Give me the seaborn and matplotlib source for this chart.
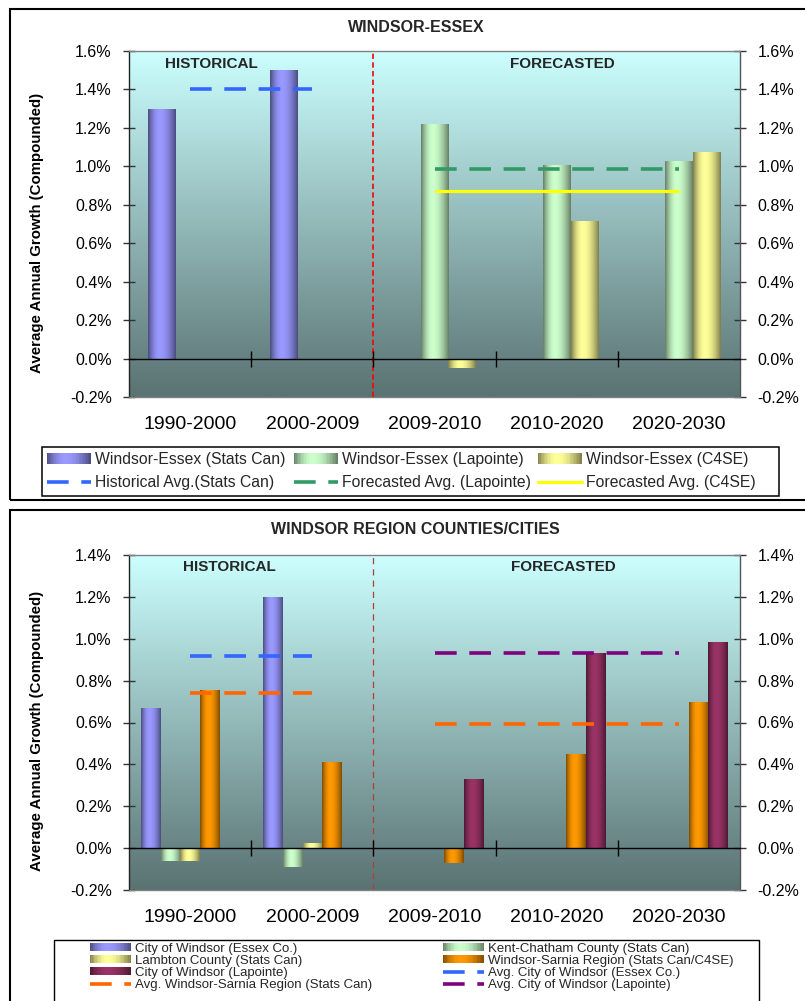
import numpy as np
import pandas as pd
import matplotlib
matplotlib.use("Agg")
import matplotlib.pyplot as plt
import matplotlib.transforms as mtransforms
import seaborn as sns
from matplotlib.patches import Rectangle, Patch
from matplotlib.lines import Line2D
from matplotlib.legend_handler import HandlerBase
from matplotlib.colors import to_rgb
from matplotlib.ticker import FuncFormatter, NullFormatter
from matplotlib import font_manager

nan = np.nan

# ---------------- data ----------------
periods = ['1990-2000', '2000-2009', '2009-2010', '2010-2020', '2020-2030']

# Panel 1: WINDSOR-ESSEX (average annual growth, %)
top_series = ['Windsor-Essex (Stats Can)', 'Windsor-Essex (Lapointe)', 'Windsor-Essex (C4SE)']
we_stats_can = [1.30, 1.50, nan, nan, nan]
we_lapointe = [nan, nan, 1.22, 1.005, 1.03]
we_c4se = [nan, nan, -0.05, 0.715, 1.075]
hist_avg_stats_can = [1.40, 1.40, nan, nan, nan]
fc_avg_lapointe = [nan, nan, 0.985, 0.985, 0.985]
fc_avg_c4se = [nan, nan, 0.87, 0.87, 0.87]
top_line_labels = ['Historical Avg.(Stats Can)', 'Forecasted Avg. (Lapointe)', 'Forecasted Avg. (C4SE)']
top_yticks = [-0.2, 0.0, 0.2, 0.4, 0.6, 0.8, 1.0, 1.2, 1.4, 1.6]

# Panel 2: WINDSOR REGION COUNTIES/CITIES
bot_series = ['City of Windsor (Essex Co.)', 'Kent-Chatham County (Stats Can)',
              'Lambton County (Stats Can)', 'Windsor-Sarnia Region (Stats Can/C4SE)',
              'City of Windsor (Lapointe)']
cow_essex = [0.67, 1.20, nan, nan, nan]
kent_chatham = [-0.06, -0.09, nan, nan, nan]
lambton = [-0.06, 0.025, nan, nan, nan]
ws_region = [0.755, 0.41, -0.07, 0.45, 0.70]
cow_lapointe = [nan, nan, 0.33, 0.93, 0.985]
avg_cow_essex = [0.92, 0.92, nan, nan, nan]
avg_ws_hist = [0.74, 0.74, nan, nan, nan]
avg_ws_fc = [nan, nan, 0.595, 0.595, 0.595]
avg_cow_lapointe = [nan, nan, 0.93, 0.93, 0.93]
bot_line_labels = ['Avg. City of Windsor (Essex Co.)', 'Avg. Windsor-Sarnia Region (Stats Can)',
                   'Avg. City of Windsor (Lapointe)']
bot_yticks = [-0.2, 0.0, 0.2, 0.4, 0.6, 0.8, 1.0, 1.2, 1.4]

# ---------------- style ----------------
sns.set_theme(style='white')
avail = {f.name for f in font_manager.fontManager.ttflist}
SANS = 'Liberation Sans' if 'Liberation Sans' in avail else 'DejaVu Sans'
plt.rcParams['font.family'] = [SANS, 'DejaVu Sans']
plt.rcParams['lines.scale_dashes'] = True

C_BLUE, C_GREEN, C_YELLOW, C_ORANGE, C_MAROON = '#9999FF', '#CCFFCC', '#FFFF99', '#FF9900', '#993366'
top_colors = [C_BLUE, C_GREEN, C_YELLOW]
bot_colors = [C_BLUE, C_GREEN, C_YELLOW, C_ORANGE, C_MAROON]
DASH = (0, (6, 3.5))

W, H = 805, 1001
fig = plt.figure(figsize=(W / 100, H / 100), dpi=100)
fig.patch.set_facecolor('white')


def fx(px):
    return px / W


def fy(py):
    return 1 - py / H


def shade(color, n=48):
    base = np.array(to_rgb(color))
    t = (np.arange(n) + 0.5) / n
    peak = 0.42
    g = np.where(t < peak, t / peak * 0.5, 0.5 + (t - peak) / (1 - peak) * 0.5)
    s = 0.48 + 0.52 * np.sin(np.pi * g) ** 0.9
    return np.clip(base[None, :] * s[:, None], 0, 1)


def shade_bars(ax):
    for p in list(ax.patches):
        h = p.get_height()
        if h == 0 or np.isnan(h):
            continue
        x0, w, y0 = p.get_x(), p.get_width(), p.get_y()
        cols = shade(p.get_facecolor())
        im = ax.imshow(cols[None, :, :], extent=(x0, x0 + w, min(y0, y0 + h), max(y0, y0 + h)),
                       aspect='auto', zorder=p.get_zorder() + 0.1, interpolation='bilinear')
        im.set_clip_path(p)


class GradHandler(HandlerBase):
    def __init__(self, color, n=30):
        super().__init__()
        self.color = color
        self.n = n

    def create_artists(self, legend, orig_handle, xdescent, ydescent, width, height, fontsize, trans):
        cols = shade(self.color, self.n)
        w = width / self.n
        arts = []
        for i, c in enumerate(cols):
            arts.append(Rectangle((-xdescent + i * w, -ydescent), w * 1.08, height,
                                  facecolor=c, edgecolor='none', transform=trans))
        return arts


def setup_panel(ax, bars, series, colors, width, yticks, vline_color, vline_lw, vline_dash):
    df = pd.DataFrame({
        'period': periods * len(series),
        'series': [s for s in series for _ in periods],
        'value': sum(bars, []),
    }).dropna()
    sns.barplot(data=df, x='period', y='value', hue='series', order=periods, hue_order=series,
                palette=dict(zip(series, colors)), width=width, errorbar=None, saturation=1,
                linewidth=0, legend=False, ax=ax, zorder=2)
    shade_bars(ax)
    ylo, yhi = yticks[0], yticks[-1]
    grad = np.linspace(0, 1, 256)[:, None, None]
    top = np.array([204, 255, 255]) / 255
    bot = np.array([90, 114, 114]) / 255
    img = top[None, None, :] * (1 - grad) + bot[None, None, :] * grad
    ax.imshow(img, extent=(-0.5, len(periods) - 0.5, ylo, yhi), aspect='auto', zorder=0,
              origin='upper', interpolation='bilinear')
    ax.axvline(1.5, color=vline_color, lw=vline_lw, ls=vline_dash, zorder=1.5)
    ax.set_xlim(-0.5, len(periods) - 0.5)
    ax.set_ylim(ylo, yhi)
    ax.set_yticks(yticks)
    ax.yaxis.set_major_formatter(FuncFormatter(lambda v, p: f'{v:.1f}%'))
    ax.tick_params(axis='y', left=True, right=True, labelleft=True, labelright=True,
                   direction='inout', length=9, width=1, color='#333333', labelsize=11.5,
                   pad=8, labelcolor='black')
    ax.set_xticks(range(len(periods)))
    ax.set_xticklabels(periods)
    ax.tick_params(axis='x', length=0, pad=13.5, labelsize=14, labelcolor='black')
    ax.set_xlabel('')
    ax.set_ylabel('Average Annual Growth (Compounded)', fontsize=10.8, fontweight='bold', color='black')
    ax.yaxis.set_label_coords(-0.139, 0.475)
    for side, sp in ax.spines.items():
        sp.set_visible(True)
        sp.set_linewidth(1)
        sp.set_color('#808080')
    ax.spines['left'].set_color('#222222')
    ax.spines['right'].set_color('#555555')
    sec = ax.secondary_xaxis((0 - ylo) / (yhi - ylo))
    sec.set_xticks([0.5, 1.5, 2.5, 3.5])
    sec.xaxis.set_major_formatter(NullFormatter())
    sec.tick_params(direction='inout', length=12, width=1, color='black')
    sec.spines['bottom'].set_color('black')
    sec.spines['bottom'].set_linewidth(1)
    sec.set_zorder(4)


xs = np.arange(len(periods))

# ---------------- panel 1 ----------------
ax1 = fig.add_axes([fx(129), fy(397), fx(740) - fx(129), (397 - 51) / H])
setup_panel(ax1, [we_stats_can, we_lapointe, we_c4se], top_series, top_colors, 0.687,
            top_yticks, '#FF0000', 1.2, (0, (3.2, 2.0)))
ax1.plot(xs, hist_avg_stats_can, color='#3366FF', lw=2.6, ls=DASH, dash_capstyle='butt', zorder=3)
ax1.plot(xs, fc_avg_lapointe, color='#339966', lw=2.6, ls=DASH, dash_capstyle='butt', zorder=3)
ax1.plot(xs, fc_avg_c4se, color='#FFFF00', lw=2.3, ls='-', solid_capstyle='butt', zorder=3)
bt = mtransforms.blended_transform_factory(ax1.transData, ax1.transAxes)
ax1.text(0.176, 0.962, 'HISTORICAL', transform=bt, ha='center', va='center', fontsize=11, fontweight='bold')
ax1.text(3.043, 0.962, 'FORECASTED', transform=bt, ha='center', va='center', fontsize=11, fontweight='bold')
fig.text(fx(416), fy(27), 'WINDSOR-ESSEX', ha='center', va='center', fontsize=11.5, fontweight='bold')

# ---------------- panel 2 ----------------
ax2 = fig.add_axes([fx(129), fy(890), fx(740) - fx(129), (890 - 555) / H])
setup_panel(ax2, [cow_essex, kent_chatham, lambton, ws_region, cow_lapointe], bot_series, bot_colors,
            0.80, bot_yticks, '#B83A3A', 0.9, (0, (5, 4)))
ax2.plot(xs, avg_cow_essex, color='#3366FF', lw=2.6, ls=DASH, dash_capstyle='butt', zorder=3)
ax2.plot(xs, avg_ws_hist, color='#FF6600', lw=2.6, ls=DASH, dash_capstyle='butt', zorder=3)
ax2.plot(xs, avg_ws_fc, color='#FF6600', lw=2.6, ls=DASH, dash_capstyle='butt', zorder=3)
ax2.plot(xs, avg_cow_lapointe, color='#800080', lw=2.6, ls=DASH, dash_capstyle='butt', zorder=3)
bt2 = mtransforms.blended_transform_factory(ax2.transData, ax2.transAxes)
ax2.text(0.322, 0.964, 'HISTORICAL', transform=bt2, ha='center', va='center', fontsize=11, fontweight='bold')
ax2.text(3.056, 0.964, 'FORECASTED', transform=bt2, ha='center', va='center', fontsize=11, fontweight='bold')
fig.text(fx(415), fy(530), 'WINDSOR REGION COUNTIES/CITIES', ha='center', va='center', fontsize=11.5,
         fontweight='bold')

# ---------------- panel frames & legend boxes ----------------
for (x0, y0, x1, y1, lw) in [(10, 9, 830, 500, 1.5), (10, 510, 830, 1030, 1.5),
                             (41.7, 446.7, 779, 496, 1.1), (54, 940, 759, 1030, 1.0)]:
    fig.add_artist(Rectangle((fx(x0), fy(y1)), fx(x1) - fx(x0), (y1 - y0) / H,
                             transform=fig.transFigure, fill=False, ec='black', lw=lw))

# ---------------- legends ----------------
def column_legend(items, x_px, yc_px, fontsize, hl, hh, ls, tp):
    handles, labels, hmap = [], [], {}
    for kind, color, label in items:
        if kind == 'bar':
            h = Patch(facecolor=color)
            hmap[h] = GradHandler(color)
        elif kind == 'dash':
            h = Line2D([], [], color=color, lw=2.6, ls=DASH, dash_capstyle='butt')
        else:
            h = Line2D([], [], color=color, lw=2.3, ls='-')
        handles.append(h)
        labels.append(label)
    fig.legend(handles, labels, handler_map=hmap, loc='center left',
               bbox_to_anchor=(fx(x_px), fy(yc_px)), bbox_transform=fig.transFigure,
               frameon=False, borderpad=0, borderaxespad=0, handlelength=hl, handleheight=hh,
               handletextpad=tp, labelspacing=ls, fontsize=fontsize, ncol=1)


top_cols = [
    [('bar', C_BLUE, top_series[0]), ('dash', '#3366FF', top_line_labels[0])],
    [('bar', C_GREEN, top_series[1]), ('dash', '#339966', top_line_labels[1])],
    [('bar', C_YELLOW, top_series[2]), ('solid', '#FFFF00', top_line_labels[2])],
]
for col, xp in zip(top_cols, [47, 294, 538]):
    column_legend(col, xp, 471, 11.3, 2.78, 0.64, 0.5, 0.28)

bot_cols = [
    [('bar', C_BLUE, bot_series[0]), ('bar', C_YELLOW, bot_series[2]),
     ('bar', C_MAROON, bot_series[4]), ('dash', '#FF6600', bot_line_labels[1])],
    [('bar', C_GREEN, bot_series[1]), ('bar', C_ORANGE, bot_series[3]),
     ('dash', '#3366FF', bot_line_labels[0]), ('dash', '#800080', bot_line_labels[2])],
]
for col, xp in zip(bot_cols, [90, 443]):
    column_legend(col, xp, 967, 9.5, 3.1, 0.58, 0.0, 0.3)

fig.savefig('out.png', dpi=100)
